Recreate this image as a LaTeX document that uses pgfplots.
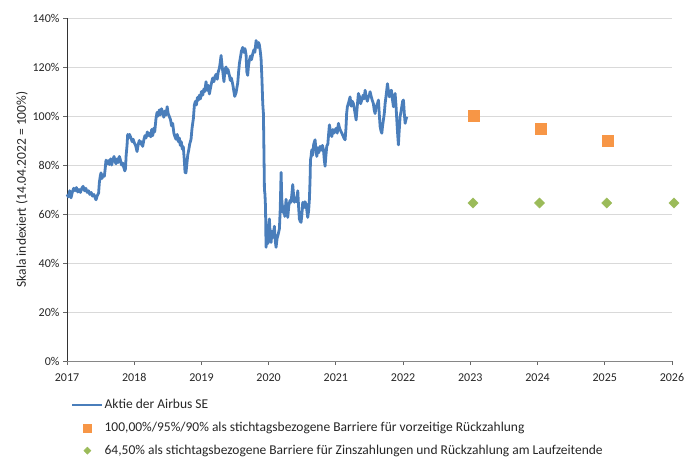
\documentclass[border=0pt]{standalone}
\usepackage{fontspec}
\setmainfont{Carlito}
\usepackage{pgfplots}
\pgfplotsset{compat=1.18}
\definecolor{airblue}{RGB}{74,126,187}
\definecolor{barorange}{RGB}{247,150,70}
\definecolor{bargreen}{RGB}{155,187,89}
\definecolor{gridgray}{RGB}{217,217,217}
\definecolor{axisgray}{RGB}{134,134,134}
\begin{document}
\begin{tikzpicture}
\begin{axis}[
  scale only axis,
  width=605pt, height=343pt,
  xmin=2017, xmax=2026,
  ymin=0, ymax=140,
  xtick={2017,2018,...,2026},
  ytick={0,20,...,140},
  /pgf/number format/assume math mode=true,
  /pgf/number format/1000 sep={},
  xticklabel={\pgfmathprintnumber[precision=0,fixed]{\tick}},
  yticklabel={\pgfmathprintnumber{\tick}\%},
  tick label style={font=\fontsize{12}{14}\selectfont, text=black!85},
  xticklabel style={yshift=-5pt},
  ymajorgrids,
  grid style={draw=gridgray, line width=0.9pt},
  axis lines*=left,
  x axis line style={draw=axisgray, line width=0.9pt},
  y axis line style={draw=black!80, line width=0.9pt},
  tick style={draw=black!60, line width=0.8pt},
  tick align=outside,
  major tick length=4pt,
  ylabel={Skala indexiert (14.04.2022 = 100\%)},
  ylabel style={font=\fontsize{13.5}{15}\selectfont, text=black!85, xshift=0pt, yshift=-2pt},
  clip=false,
  legend cell align=left,
  legend style={draw=none, fill=none, at={(0,0)}, anchor=north west,
    xshift=4pt, yshift=-36pt, inner sep=0pt, row sep=8pt,
    font=\fontsize{13.5}{15}\selectfont, text=black!85,
    nodes={inner sep=1pt, text height=10pt, text depth=3pt}},
]
\addplot[color=airblue, line width=2.8pt, line join=round,
  legend image code/.code={\draw[airblue, line width=2.4pt] (0pt,0pt) -- (30pt,0pt);}]
 coordinates {
(2017.000,68.0)(2017.020,67.0)(2017.040,69.5)(2017.060,66.6)(2017.080,69.0)
(2017.100,70.5)(2017.120,69.5)(2017.140,70.8)(2017.160,69.0)(2017.180,70.0)
(2017.200,68.8)(2017.220,70.5)(2017.240,71.3)(2017.260,69.5)(2017.280,70.5)
(2017.300,68.8)(2017.320,69.5)(2017.340,68.0)(2017.360,68.8)(2017.380,67.3)
(2017.400,68.0)(2017.420,66.5)(2017.432,65.8)(2017.450,67.5)(2017.470,68.5)
(2017.481,72.7)(2017.495,75.5)(2017.506,76.8)(2017.520,74.5)(2017.540,76.0)
(2017.556,75.4)(2017.570,79.0)(2017.580,82.0)(2017.600,80.5)(2017.615,81.8)
(2017.630,80.2)(2017.650,82.5)(2017.665,80.0)(2017.680,82.0)(2017.700,83.5)
(2017.715,81.5)(2017.729,80.5)(2017.745,82.5)(2017.760,81.0)(2017.779,83.5)
(2017.795,82.0)(2017.810,80.0)(2017.828,80.8)(2017.845,79.0)(2017.860,77.6)
(2017.870,78.5)(2017.880,84.0)(2017.893,88.0)(2017.903,92.5)(2017.915,91.0)
(2017.930,92.5)(2017.952,91.0)(2017.970,89.5)(2017.985,90.5)(2018.002,89.0)
(2018.020,88.0)(2018.042,85.5)(2018.060,88.5)(2018.076,90.0)(2018.095,88.5)
(2018.110,89.5)(2018.126,87.6)(2018.145,90.5)(2018.160,92.0)(2018.176,91.0)
(2018.195,93.5)(2018.210,92.0)(2018.225,93.0)(2018.245,91.5)(2018.260,94.5)
(2018.275,92.0)(2018.290,95.0)(2018.305,93.5)(2018.324,99.0)(2018.340,101.5)
(2018.355,100.0)(2018.374,102.5)(2018.390,100.5)(2018.405,103.0)(2018.424,101.5)
(2018.440,99.5)(2018.455,102.0)(2018.473,100.4)(2018.490,103.8)(2018.505,101.0)
(2018.523,99.7)(2018.540,98.5)(2018.555,96.0)(2018.572,97.0)(2018.590,93.0)
(2018.605,91.6)(2018.622,90.5)(2018.640,92.5)(2018.656,89.5)(2018.672,91.0)
(2018.685,88.0)(2018.700,89.5)(2018.715,86.5)(2018.730,87.5)(2018.745,82.0)
(2018.756,77.0)(2018.770,76.8)(2018.785,81.0)(2018.796,84.0)(2018.810,86.0)
(2018.825,88.5)(2018.845,90.5)(2018.860,95.0)(2018.870,97.0)(2018.880,99.0)
(2018.895,104.5)(2018.910,106.0)(2018.925,104.5)(2018.940,107.5)(2018.955,106.5)
(2018.969,108.5)(2018.985,107.0)(2019.000,110.0)(2019.019,108.5)(2019.035,111.0)
(2019.050,110.0)(2019.068,114.0)(2019.085,110.5)(2019.100,112.5)(2019.118,109.0)
(2019.135,111.5)(2019.150,113.5)(2019.168,115.5)(2019.185,114.0)(2019.200,116.0)
(2019.217,117.0)(2019.235,115.0)(2019.250,118.0)(2019.267,119.5)(2019.280,122.0)
(2019.292,124.7)(2019.305,121.0)(2019.320,117.5)(2019.335,114.0)(2019.350,119.0)
(2019.366,120.0)(2019.380,117.5)(2019.395,119.0)(2019.416,116.5)(2019.430,114.5)
(2019.445,115.5)(2019.465,113.0)(2019.480,110.5)(2019.495,108.0)(2019.515,109.5)
(2019.530,112.0)(2019.540,113.5)(2019.553,118.0)(2019.565,121.5)(2019.580,124.0)
(2019.595,126.5)(2019.614,128.0)(2019.630,126.0)(2019.648,127.5)(2019.664,125.0)
(2019.675,118.0)(2019.688,116.6)(2019.700,120.5)(2019.713,122.7)(2019.730,124.5)
(2019.745,123.0)(2019.763,125.4)(2019.780,127.0)(2019.795,126.0)(2019.813,130.8)
(2019.825,129.0)(2019.837,128.0)(2019.850,130.0)(2019.862,129.0)(2019.875,126.5)
(2019.887,123.4)(2019.900,115.0)(2019.912,105.0)(2019.922,101.0)(2019.930,85.0)
(2019.937,70.0)(2019.945,68.0)(2019.953,63.0)(2019.961,46.4)(2019.975,52.0)
(2019.990,48.0)(2020.000,55.0)(2020.011,58.0)(2020.025,50.0)(2020.036,48.4)
(2020.050,53.0)(2020.065,50.5)(2020.085,55.0)(2020.098,49.0)(2020.110,46.4)
(2020.125,50.0)(2020.140,51.5)(2020.160,54.0)(2020.172,62.0)(2020.185,77.0)
(2020.195,66.0)(2020.209,60.7)(2020.225,63.0)(2020.240,59.0)(2020.259,66.0)
(2020.272,62.0)(2020.284,58.6)(2020.300,63.5)(2020.318,65.5)(2020.333,64.8)
(2020.345,68.0)(2020.358,72.0)(2020.370,68.0)(2020.383,64.8)(2020.400,66.5)
(2020.415,65.0)(2020.433,69.5)(2020.445,63.0)(2020.457,58.0)(2020.470,57.0)
(2020.482,56.6)(2020.495,60.0)(2020.507,64.8)(2020.520,62.5)(2020.540,65.0)
(2020.557,64.0)(2020.570,61.0)(2020.581,58.6)(2020.595,61.5)(2020.606,66.0)
(2020.616,74.0)(2020.622,82.0)(2020.631,83.5)(2020.641,86.2)(2020.655,84.0)
(2020.670,88.5)(2020.690,90.3)(2020.703,86.5)(2020.716,83.5)(2020.730,87.0)
(2020.745,85.0)(2020.765,87.6)(2020.780,86.0)(2020.800,88.0)(2020.815,86.2)
(2020.828,82.0)(2020.839,79.5)(2020.852,84.0)(2020.864,87.6)(2020.880,88.5)
(2020.893,93.0)(2020.904,96.4)(2020.920,93.5)(2020.939,91.6)(2020.955,94.5)
(2020.970,93.0)(2020.988,94.3)(2021.005,95.0)(2021.020,93.0)(2021.038,97.0)
(2021.055,95.0)(2021.070,94.0)(2021.088,93.0)(2021.105,92.0)(2021.120,91.0)
(2021.137,90.3)(2021.150,95.0)(2021.160,101.0)(2021.171,103.8)(2021.190,105.5)
(2021.211,107.8)(2021.228,104.0)(2021.245,106.0)(2021.261,105.0)(2021.280,102.0)
(2021.301,98.4)(2021.315,103.0)(2021.335,109.2)(2021.350,108.0)(2021.368,105.0)
(2021.385,106.5)(2021.405,108.5)(2021.420,107.0)(2021.435,110.5)(2021.450,108.0)
(2021.468,106.0)(2021.484,107.8)(2021.497,108.5)(2021.509,109.9)(2021.525,108.0)
(2021.540,106.5)(2021.558,105.0)(2021.570,102.5)(2021.583,101.0)(2021.600,104.0)
(2021.618,105.0)(2021.633,106.5)(2021.645,101.0)(2021.658,95.7)(2021.670,94.0)
(2021.683,93.0)(2021.695,96.0)(2021.707,98.4)(2021.720,101.0)(2021.732,105.0)
(2021.750,109.0)(2021.767,113.2)(2021.780,110.5)(2021.796,107.8)(2021.810,110.0)
(2021.826,110.5)(2021.840,107.0)(2021.856,103.8)(2021.870,106.5)(2021.881,109.2)
(2021.895,104.0)(2021.906,98.4)(2021.918,93.0)(2021.930,88.2)(2021.942,94.0)
(2021.955,99.7)(2021.967,101.5)(2021.980,103.8)(2021.993,106.0)(2022.005,106.5)
(2022.018,101.0)(2022.030,97.0)(2022.042,98.5)(2022.055,99.7)
};
\addlegendentry{Aktie der Airbus SE}
\addplot[only marks, mark=square*, mark size=5.5pt, color=barorange,
  legend image code/.code={\draw[draw=barorange, fill=barorange] (11pt,-4pt) rectangle (19pt,4pt);}]
 coordinates {(2023.05,100)(2024.04,95)(2025.04,90)};
\addlegendentry{100,00\%/95\%/90\% als stichtagsbezogene Barriere für vorzeitige Rückzahlung}
\addplot[only marks, mark=square*, mark size=3.6pt, mark options={rotate=45}, color=bargreen,
  legend image code/.code={\draw[draw=bargreen, fill=bargreen] (15pt,-3.6pt) -- (18.6pt,0pt) -- (15pt,3.6pt) -- (11.4pt,0pt) -- cycle;}]
 coordinates {(2023.04,64.5)(2024.03,64.5)(2025.03,64.5)(2026.03,64.5)};
\addlegendentry{64,50\% als stichtagsbezogene Barriere für Zinszahlungen und Rückzahlung am Laufzeitende}
\end{axis}
\pgfresetboundingbox
\path[use as bounding box] (-67pt,-98pt) rectangle (617pt,361pt);
\end{tikzpicture}
\end{document}
